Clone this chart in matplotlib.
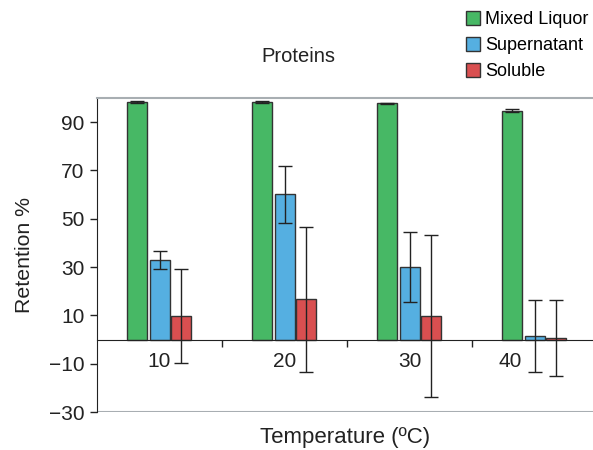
import numpy as np
import matplotlib
matplotlib.use("Agg")
import matplotlib.pyplot as plt
import matplotlib.transforms as mtransforms

plt.rcParams['font.family'] = ['Liberation Sans', 'DejaVu Sans']

temps = ['10', '20', '30', '40']
mixed = [98.4, 98.4, 97.8, 94.7]
mixed_err = [0.4, 0.4, 0.3, 0.6]
super_ = [33.1, 60.1, 30.1, 1.4]
super_err = [3.7, 11.7, 14.4, 15.0]
soluble = [9.7, 16.6, 9.7, 0.7]
soluble_err = [19.6, 30.0, 33.4, 15.8]

colors = ['#47b865', '#55afe1', '#d94f50']
names = ['Mixed Liquor', 'Supernatant', 'Soluble']

fig = plt.figure(figsize=(5.93, 4.5), dpi=100)
ax = fig.add_axes([97/593, 1-412/450, 1-97/593, 314/450])

x = np.arange(len(temps))
w = 0.16
offs = [-0.18, 0.0, 0.17]
series = [(mixed, mixed_err), (super_, super_err), (soluble, soluble_err)]
handles = []
for (vals, errs), off, c, n in zip(series, offs, colors, names):
    b = ax.bar(x + off, vals, w, color=c, edgecolor='#333333', linewidth=1.0, label=n, zorder=2)
    ax.errorbar(x + off, vals, yerr=errs, fmt='none', ecolor='#222222', elinewidth=1.0,
                capsize=5, capthick=1.0, zorder=3)
    handles.append(b)

ax.set_ylim(-30, 100)
ax.set_xlim(-0.5, 3.468)
ax.set_yticks([90, 70, 50, 30, 10, -10, -30])
ax.set_yticklabels(['90', '70', '50', '30', '10', '\u221210', '\u221230'])
ax.tick_params(axis='y', labelsize=15, length=5, width=1, colors='#222222', pad=4)

ax.spines['bottom'].set_position(('data', 0))
ax.spines['bottom'].set_color('#222222')
ax.spines['left'].set_color('#222222')
ax.spines['right'].set_visible(False)
ax.spines['top'].set_color('#a8aeb2')
ax.spines['top'].set_linewidth(1.5)
ax.axhline(-30, color='#a8aeb2', linewidth=1.5, zorder=1)

ax.set_xticks(x)
ax.set_xticklabels(temps)
ax.set_xticks([0.5, 1.5, 2.5], minor=True)
ax.tick_params(axis='x', which='major', length=0, labelsize=15, pad=9, colors='#222222')
ax.tick_params(axis='x', which='minor', length=5, width=1, direction='out', colors='#222222')
# last label sits left of the error bars
lab = ax.get_xticklabels()[-1]
lab.set_transform(lab.get_transform() + mtransforms.ScaledTranslation(-0.24, 0, fig.dpi_scale_trans))

fig.text(298/593, 1-57/450, 'Proteins', ha='center', va='center', fontsize=14.5, color='#222222')
fig.text(345/593, 1-437/450, 'Temperature (\u00baC)', ha='center', va='center', fontsize=16, color='#222222')
fig.text(25/593, 1-255/450, 'Retention %', ha='center', va='center', rotation=90, fontsize=15.3, color='#222222')

fig.legend(handles=handles, labels=names, loc='upper left', bbox_to_anchor=(459/593, 1-4/450),
           frameon=False, fontsize=13, handlelength=0.75, handleheight=0.75, handletextpad=0.3,
           labelspacing=0.5, borderaxespad=0)

fig.savefig('out.png', dpi=100)
